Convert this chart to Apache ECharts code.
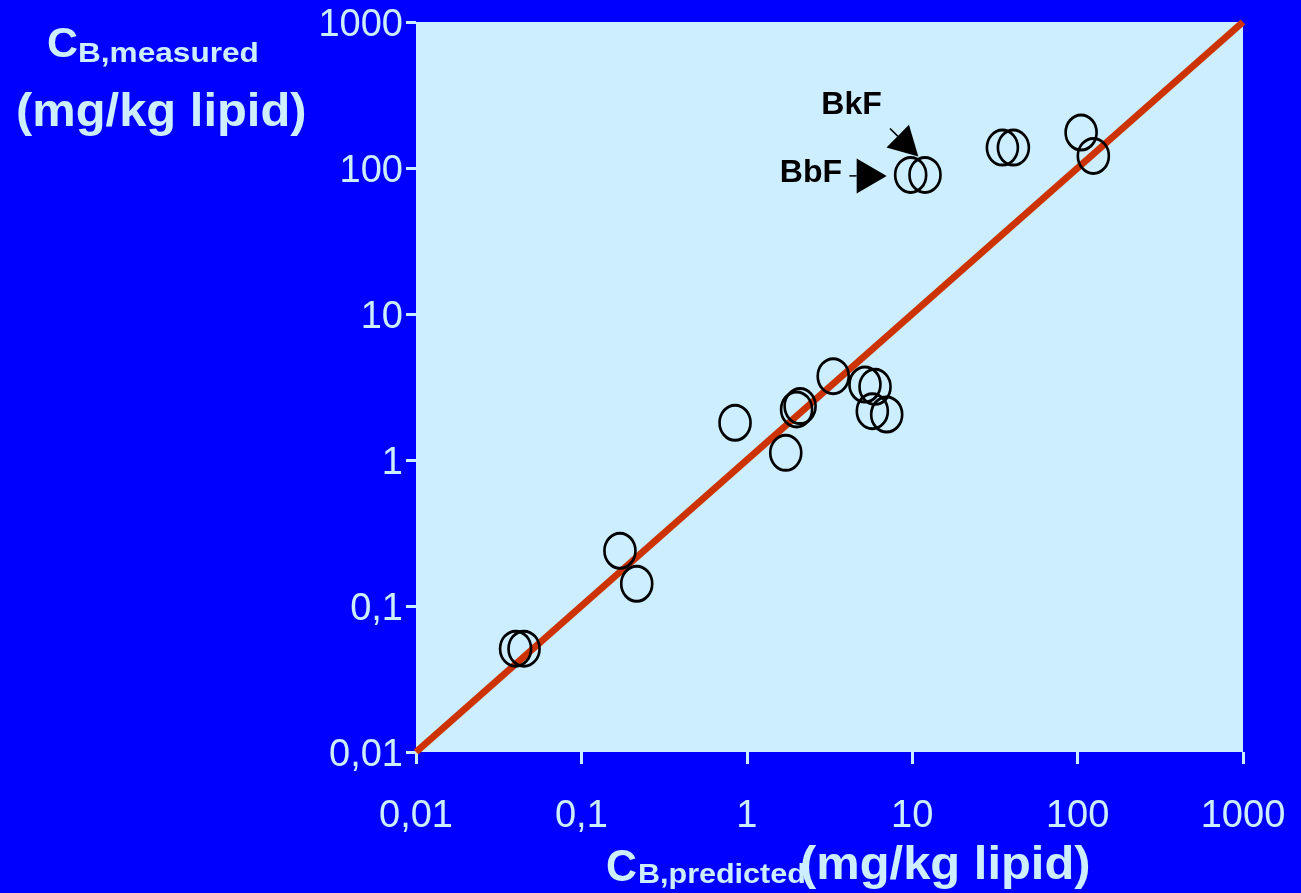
<!DOCTYPE html>
<html>
<head>
<meta charset="utf-8">
<script src="https://cdn.jsdelivr.net/npm/echarts@6/dist/echarts.min.js"></script>
<style>
html,body{margin:0;padding:0;background:#0000ff;}
#c{width:1301px;height:893px;}
</style>
</head>
<body>
<div id="c"></div>
<script>
// ---- data ----
const tickLabels = ['0,01', '0,1', '1', '10', '100', '1000'];
const predicted = [0.040, 0.045, 0.171, 0.216, 0.849, 1.72, 2.00, 2.10, 3.33, 5.18, 5.96, 5.74, 7.01, 9.79, 11.95, 35.1, 40.9, 105, 124.5];
const measured  = [0.051, 0.051, 0.239, 0.142, 1.80, 1.12, 2.22, 2.34, 3.75, 3.29, 3.17, 2.16, 2.05, 89.7, 89.7, 138, 138, 175, 121];
const lineX = [0.01, 1000];
const lineY = [0.01, 1000];
const annotations = [
  {name: 'BkF', text: [4.30, 270], from: [7.34, 186.6], tip: [10.89, 119.9]},
  {name: 'BbF', text: [2.44, 92], from: [4.17, 88.3], tip: [7.01, 88.3]}
];

const FONT = "'Liberation Sans', Arial, sans-serif";
const LIGHT = '#cceeff';

const chart = echarts.init(document.getElementById('c'), null, {renderer: 'canvas'});

function fmt(v) {
  const i = Math.round(Math.log10(v)) + 2;
  return tickLabels[i] !== undefined ? tickLabels[i] : '';
}

const scatterData = predicted.map((x, i) => [x, measured[i]]);
const lineData = lineX.map((x, i) => [x, lineY[i]]);

chart.setOption({
  backgroundColor: '#0000ff',
  animation: false,
  grid: {
    left: 416, right: 58, top: 22, bottom: 141,
    show: true, backgroundColor: LIGHT, borderWidth: 0
  },
  xAxis: {
    type: 'log', logBase: 10, min: 0.01, max: 1000,
    axisLine: {show: false},
    axisTick: {show: true, length: 12, lineStyle: {color: LIGHT, width: 3}},
    splitLine: {show: false},
    minorTick: {show: false},
    axisLabel: {
      margin: 46, color: LIGHT, fontFamily: FONT, fontSize: 38,
      formatter: fmt, showMinLabel: true, showMaxLabel: true
    }
  },
  yAxis: {
    type: 'log', logBase: 10, min: 0.01, max: 1000,
    axisLine: {show: false},
    axisTick: {show: true, length: 10, lineStyle: {color: LIGHT, width: 3}},
    splitLine: {show: false},
    minorTick: {show: false},
    axisLabel: {
      margin: 13, color: LIGHT, fontFamily: FONT, fontSize: 38,
      verticalAlign: 'top', lineHeight: 8,
      formatter: fmt, showMinLabel: true, showMaxLabel: true
    }
  },
  series: [
    {
      type: 'line',
      data: lineData,
      symbol: 'none',
      lineStyle: {color: '#cc3300', width: 7},
      z: 2
    },
    {
      type: 'scatter',
      data: scatterData,
      symbol: 'circle',
      symbolSize: [31, 35],
      itemStyle: {color: 'rgba(0,0,0,0)', borderColor: '#000000', borderWidth: 2.8, opacity: 1},
      z: 3
    }
  ]
});

// titles and annotations (annotations positioned via data -> pixel)
const graphics = [];
function txt(x, y, text, size, sx) {
  graphics.push({
    type: 'text', x: x, y: y, scaleX: sx || 1,
    style: {text: text, fill: LIGHT, font: 'bold ' + size + 'px ' + FONT,
            align: 'left', verticalAlign: 'middle'},
    z: 10
  });
}
// y title
txt(47, 45, 'C', 43, 1);
txt(78, 55, 'B,measured', 27, 1.17);
txt(16, 113, '(mg/kg lipid)', 47, 1.04);
// x title
txt(606, 869, 'C', 45, 0.95);
txt(638, 876, 'B,predicted', 27, 1.13);
txt(800, 866, '(mg/kg lipid)', 47, 1.04);

const arrowSize = {BkF: [29, 32], BbF: [30, 35]};
annotations.forEach(a => {
  const t = chart.convertToPixel({xAxisIndex: 0, yAxisIndex: 0}, a.text);
  graphics.push({
    type: 'text', x: t[0], y: t[1],
    style: {text: a.name, fill: '#000', font: 'bold 32px ' + FONT, align: 'center', verticalAlign: 'middle'},
    z: 10
  });
  const p0 = chart.convertToPixel({xAxisIndex: 0, yAxisIndex: 0}, a.from);
  const p1 = chart.convertToPixel({xAxisIndex: 0, yAxisIndex: 0}, a.tip);
  const dx = p1[0] - p0[0], dy = p1[1] - p0[1];
  const L = Math.sqrt(dx * dx + dy * dy);
  const ux = dx / L, uy = dy / L;
  const [hl, hw] = arrowSize[a.name];
  const bx = p1[0] - ux * hl, by = p1[1] - uy * hl;
  graphics.push({
    type: 'line', shape: {x1: p0[0], y1: p0[1], x2: bx, y2: by},
    style: {stroke: '#000', lineWidth: 1.5}, z: 10
  });
  graphics.push({
    type: 'polygon',
    shape: {points: [[p1[0], p1[1]], [bx - uy * hw / 2, by + ux * hw / 2], [bx + uy * hw / 2, by - ux * hw / 2]]},
    style: {fill: '#000'}, z: 10
  });
});
chart.setOption({graphic: graphics});
</script>
</body>
</html>
